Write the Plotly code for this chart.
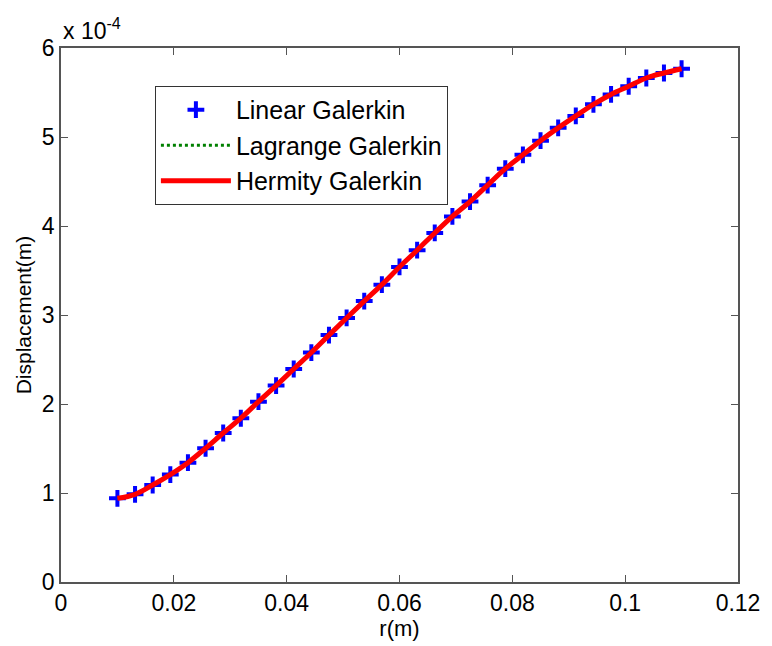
import plotly.graph_objects as go

# Data (displacement in units of 1e-4 m)
r_m = [0.01 + i * 0.1 / 32 for i in range(33)]
disp_linear = [0.94, 0.985, 1.09, 1.207, 1.341, 1.503, 1.674, 1.84, 2.026, 2.207,
               2.393, 2.578, 2.774, 2.967, 3.156, 3.341, 3.54, 3.728, 3.922, 4.108,
               4.274, 4.459, 4.644, 4.8, 4.959, 5.103, 5.237, 5.367, 5.478, 5.57,
               5.663, 5.719, 5.767]
disp_lagrange = list(disp_linear)
disp_hermite = list(disp_linear)

x_ticks = [0, 0.02, 0.04, 0.06, 0.08, 0.1, 0.12]
x_ticktext = ["0", "0.02", "0.04", "0.06", "0.08", "0.1", "0.12"]
y_ticks = [0, 1, 2, 3, 4, 5, 6]
y_ticktext = ["0", "1", "2", "3", "4", "5", "6"]

FONT = "Arial, Liberation Sans, Helvetica, sans-serif"

fig = go.Figure()
fig.add_trace(go.Scatter(
    x=r_m, y=disp_linear, mode="markers", name="Linear Galerkin",
    legendgroup="a",
    marker=dict(symbol="cross-thin", size=12, color="#0000ff",
                line=dict(color="#0000ff", width=4)),
))
fig.add_trace(go.Scatter(
    x=r_m, y=disp_lagrange, mode="lines", name="Lagrange Galerkin",
    legendgroup="b",
    line=dict(color="#008000", width=3, dash="dot", shape="spline"),
))
fig.add_trace(go.Scatter(
    x=r_m, y=disp_hermite, mode="lines", name="Hermity Galerkin",
    legendgroup="c",
    line=dict(color="#ff0000", width=5, shape="spline"),
))

axis_common = dict(
    showline=True, linecolor="#555555", linewidth=1.5, mirror="allticks",
    ticks="inside", ticklen=7, tickwidth=1, tickcolor="#555555",
    showgrid=False, zeroline=False,
    tickfont=dict(family=FONT, size=23, color="#000000"),
)

fig.update_layout(
    width=772, height=646,
    margin=dict(l=61, r=26, t=48, b=58),
    paper_bgcolor="white", plot_bgcolor="white",
    font=dict(family=FONT, color="#000000"),
    xaxis=dict(range=[0, 0.12], tickvals=x_ticks, ticktext=x_ticktext,
               title=dict(text="r(m)", font=dict(family=FONT, size=22), standoff=2),
               **axis_common),
    yaxis=dict(range=[0, 6], tickvals=y_ticks, ticktext=y_ticktext,
               title=dict(text="Displacement(m)", font=dict(family=FONT, size=21), standoff=5),
               **axis_common),
    legend=dict(
        x=0.1387, y=0.929, xanchor="left", yanchor="top",
        bgcolor="white", bordercolor="#333333", borderwidth=1,
        font=dict(family=FONT, size=25, color="#000000"),
        itemwidth=70, tracegroupgap=0,
    ),
    showlegend=True,
    annotations=[dict(
        text="x 10<sup>-4</sup>", xref="paper", yref="paper",
        x=0, y=1, xanchor="left", yanchor="bottom", yshift=2,
        showarrow=False, font=dict(family=FONT, size=23, color="#000000"),
    )],
)

fig.write_html("out.html")
